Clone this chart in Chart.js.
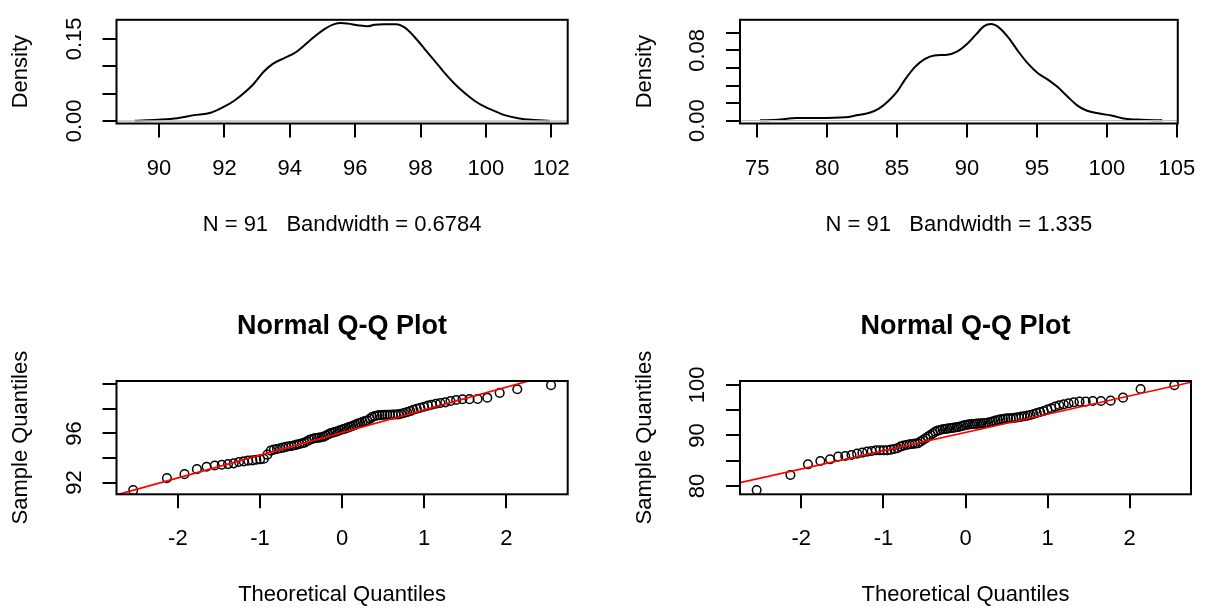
<!DOCTYPE html>
<html>
<head>
<meta charset="utf-8">
<title>Density and Normal Q-Q plots</title>
<script src="https://cdn.jsdelivr.net/npm/chart.js@4.4.1/dist/chart.umd.min.js"></script>
<style>
    html, body { margin: 0; padding: 0; background: #fff; }
    #figure { position: relative; width: 1213px; height: 610px; overflow: hidden; }
    #figure canvas { position: absolute; }
</style>
</head>
<body>
<div id="figure">
    <canvas id="densA" style="left:0px;top:0px" width="606" height="305"></canvas>
    <canvas id="densB" style="left:624px;top:0px" width="589" height="305"></canvas>
    <canvas id="qqA" style="left:0px;top:305px" width="606" height="305"></canvas>
    <canvas id="qqB" style="left:624px;top:305px" width="589" height="305"></canvas>
</div>
<script>
// =============================================
// Data
// =============================================

// density curve, first sample (N = 91, bw = 0.6784)
const densAx = [89.26, 89.93, 90.56, 91.07, 91.58, 91.99, 92.3, 92.6, 92.9, 93.2,
    93.47, 93.83, 94.14, 94.44, 94.75, 95.06, 95.36, 95.57, 95.77, 96.08,
    96.38, 96.59, 96.89, 97.25, 97.51, 97.81, 98.12, 98.43, 98.74, 99.04,
    99.35, 99.65, 99.96, 100.27, 100.57, 100.98, 101.39, 101.95];
const densAy = [0.0004, 0.0022, 0.005, 0.0106, 0.015, 0.026, 0.037, 0.051, 0.068, 0.090,
    0.104, 0.115, 0.124, 0.138, 0.154, 0.168, 0.177, 0.179, 0.178, 0.175,
    0.173, 0.176, 0.177, 0.177, 0.171, 0.154, 0.132, 0.110, 0.0875, 0.068,
    0.051, 0.037, 0.026, 0.018, 0.0106, 0.005, 0.002, 0.0004];

// density curve, second sample (N = 91, bw = 1.335)
const densBx = [75.2, 76.44, 77.82, 79.33, 81.3, 82.1, 83.03, 83.73, 84.42, 85.0,
    85.58, 86.27, 86.97, 87.66, 88.59, 89.28, 89.98, 90.67, 91.25, 91.71,
    92.29, 92.99, 93.68, 94.38, 95.07, 95.76, 96.46, 97.15, 97.85, 98.54,
    99.47, 100.39, 101.32, 102.48, 103.96];
const densBy = [0.0003, 0.001, 0.003, 0.003, 0.0038, 0.006, 0.009, 0.014, 0.023, 0.033,
    0.047, 0.061, 0.070, 0.0743, 0.075, 0.0785, 0.087, 0.0986, 0.108, 0.110,
    0.106, 0.094, 0.0785, 0.0646, 0.054, 0.047, 0.0385, 0.028, 0.0177, 0.0115,
    0.008, 0.0056, 0.002, 0.001, 0.0003];

// theoretical quantiles (x of both Q-Q plots)
const qqTheo = [-2.544, -2.133, -1.919, -1.768, -1.650, -1.551, -1.465, -1.389, -1.320, -1.256,
    -1.197, -1.143, -1.092, -1.044, -0.998, -0.953, -0.910, -0.869, -0.830, -0.792,
    -0.755, -0.718, -0.683, -0.649, -0.615, -0.582, -0.550, -0.518, -0.487, -0.456,
    -0.426, -0.396, -0.366, -0.337, -0.308, -0.279, -0.250, -0.222, -0.194, -0.166,
    -0.138, -0.110, -0.083, -0.055, -0.028, 0, 0.028, 0.055, 0.083, 0.110,
    0.138, 0.166, 0.194, 0.222, 0.250, 0.279, 0.308, 0.337, 0.366, 0.396,
    0.426, 0.456, 0.487, 0.518, 0.550, 0.582, 0.615, 0.649, 0.683, 0.718,
    0.755, 0.792, 0.830, 0.869, 0.910, 0.953, 0.998, 1.044, 1.092, 1.143,
    1.197, 1.256, 1.320, 1.389, 1.465, 1.551, 1.650, 1.768, 1.919, 2.133, 2.544];

// sample quantiles
const qqSampleA = [91.38, 92.36, 92.68, 93.09, 93.28, 93.39, 93.45, 93.50, 93.56, 93.67,
    93.72, 93.78, 93.80, 93.86, 93.89, 93.94, 94.27, 94.60, 94.68, 94.73,
    94.79, 94.84, 94.90, 94.95, 94.98, 95.03, 95.09, 95.14, 95.20, 95.25,
    95.36, 95.47, 95.55, 95.61, 95.63, 95.66, 95.69, 95.74, 95.83, 95.93,
    96.02, 96.07, 96.13, 96.18, 96.26, 96.32, 96.37, 96.43, 96.51, 96.56,
    96.64, 96.73, 96.81, 96.86, 96.95, 97.00, 97.05, 97.19, 97.33, 97.41,
    97.46, 97.49, 97.50, 97.52, 97.52, 97.52, 97.53, 97.54, 97.55, 97.60,
    97.66, 97.74, 97.82, 97.93, 98.01, 98.09, 98.17, 98.26, 98.34, 98.42,
    98.48, 98.53, 98.64, 98.72, 98.78, 98.79, 98.80, 98.91, 99.30, 99.60, 99.93];
const qqSampleB = [79.18, 82.18, 84.29, 84.95, 85.28, 85.81, 85.94, 86.14, 86.40, 86.60,
    86.80, 86.93, 87.06, 87.06, 87.06, 87.06, 87.19, 87.33, 87.46, 87.79,
    87.99, 88.12, 88.25, 88.32, 88.38, 88.45, 88.78, 89.11, 89.44, 89.77,
    90.10, 90.43, 90.76, 90.96, 91.09, 91.22, 91.29, 91.35, 91.42, 91.49,
    91.55, 91.62, 91.68, 91.82, 91.95, 92.08, 92.15, 92.21, 92.28, 92.28,
    92.34, 92.34, 92.41, 92.41, 92.48, 92.54, 92.67, 92.81, 92.94, 93.07,
    93.20, 93.27, 93.33, 93.40, 93.40, 93.47, 93.53, 93.60, 93.73, 93.80,
    93.93, 94.06, 94.26, 94.46, 94.65, 94.85, 95.12, 95.38, 95.71, 95.97,
    96.17, 96.37, 96.57, 96.70, 96.70, 96.83, 96.83, 96.90, 97.49, 99.21, 99.96];

// qqline: [intercept, slope]
const qqLineA = [96.07, 1.85];
const qqLineB = [90.6, 3.62];

// axis limits: [xmin, xmax, ymin, ymax]
const limDensA = [88.7, 102.5, -0.0047, 0.185];
const limDensB = [73.77, 105.07, -0.0033, 0.1149];
const limQqA = [-2.747, 2.747, 91.04, 100.27];
const limQqB = [-2.747, 2.747, 78.35, 100.79];

// ticks and their labels ('' = tick without label)
const ticksDensAx = [90, 92, 94, 96, 98, 100, 102];
const labelsDensAx = ['90', '92', '94', '96', '98', '100', '102'];
const ticksDensAy = [0, 0.05, 0.10, 0.15];
const labelsDensAy = ['0.00', '', '', '0.15'];
const ticksDensBx = [75, 80, 85, 90, 95, 100, 105];
const labelsDensBx = ['75', '80', '85', '90', '95', '100', '105'];
const ticksDensBy = [0, 0.02, 0.04, 0.06, 0.08, 0.10];
const labelsDensBy = ['0.00', '', '', '', '0.08', ''];
const ticksQqX = [-2, -1, 0, 1, 2];
const labelsQqX = ['-2', '-1', '0', '1', '2'];
const ticksQqAy = [92, 94, 96, 98, 100];
const labelsQqAy = ['92', '', '96', '', ''];
const ticksQqBy = [80, 85, 90, 95, 100];
const labelsQqBy = ['80', '', '90', '', '100'];

const subDensA = 'N = 91   Bandwidth = 0.6784';
const subDensB = 'N = 91   Bandwidth = 1.335';
const qqTitle = 'Normal Q-Q Plot';
const qqXLabel = 'Theoretical Quantiles';
const qqYLabel = 'Sample Quantiles';
const densYLabel = 'Density';

(function() {
    'use strict';

    const INK = '#000000';
    const LWD = 2;
    const FS = 22;

    Chart.defaults.font.family = '"Liberation Sans", Arial, sans-serif';
    Chart.defaults.font.size = FS;
    Chart.defaults.color = INK;

    // =============================================
    // Plot frame (R draws a full box round the plot region)
    // =============================================
    const boxPlugin = {
        id: 'rbox',
        afterDatasetsDraw(chart) {
            const a = chart.chartArea;
            const ctx = chart.ctx;
            ctx.save();
            ctx.strokeStyle = INK;
            ctx.lineWidth = LWD;
            ctx.strokeRect(a.left, a.top, a.right - a.left, a.bottom - a.top);
            ctx.restore();
        }
    };

    function pts(xs, ys) {
        return xs.map((x, i) => ({ x: x, y: ys[i] }));
    }

    // =============================================
    // Axes
    // =============================================
    function xAxis(lim, ticks, labels, title, labelPad, titlePad, height) {
        return {
            type: 'linear', position: 'bottom', bounds: 'data',
            min: lim[0], max: lim[1],
            afterBuildTicks: s => { s.ticks = ticks.map(v => ({ value: v })); },
            afterFit: s => { s.height = height; },
            grid: { display: true, drawOnChartArea: false, drawTicks: true, tickLength: 14, color: INK, lineWidth: LWD },
            border: { display: false },
            ticks: { autoSkip: false, maxRotation: 0, minRotation: 0, padding: labelPad, color: INK,
                callback: (v, i) => labels[i] },
            title: { display: true, text: title, color: INK, padding: { top: 0, bottom: titlePad } }
        };
    }

    function yAxis(lim, ticks, labels, title, labelPad, width) {
        return {
            type: 'linear', position: 'left', bounds: 'data',
            min: lim[2], max: lim[3],
            afterBuildTicks: s => { s.ticks = ticks.map(v => ({ value: v })); },
            afterFit: s => { s.width = width; },
            grid: { display: true, drawOnChartArea: false, drawTicks: true, tickLength: 14, color: INK, lineWidth: LWD },
            border: { display: false },
            ticks: { autoSkip: false, minRotation: 90, maxRotation: 90, crossAlign: 'center',
                padding: labelPad, color: INK, callback: (v, i) => labels[i] },
            title: { display: true, text: title, color: INK, padding: { top: 7.5, bottom: 0 } }
        };
    }

    function makeChart(id, datasets, scales, padTop, padRight, title) {
        return new Chart(document.getElementById(id), {
            type: 'scatter',
            data: { datasets: datasets },
            options: {
                responsive: false,
                animation: false,
                events: [],
                layout: { padding: { top: padTop, right: padRight, left: 0, bottom: 0 } },
                plugins: {
                    legend: { display: false },
                    tooltip: { enabled: false },
                    title: title ? {
                        display: true, text: title, fullSize: false, color: INK,
                        font: { size: 27, weight: 'bold' },
                        padding: { top: 5.8, bottom: 37.8 }
                    } : { display: false }
                },
                scales: scales
            },
            plugins: [boxPlugin]
        });
    }

    // =============================================
    // Density panels
    // =============================================
    function densityPanel(id, xs, ys, lim, tx, lx, ty, ly, sub, yWidth, padRight) {
        const datasets = [{
            // zero line (drawn over the curve, as plot.density does)
            data: [{ x: lim[0], y: 0 }, { x: lim[1], y: 0 }],
            showLine: true, borderColor: '#BEBEBE', borderWidth: 1.4, pointRadius: 0, clip: 0
        }, {
            data: pts(xs, ys),
            showLine: true, borderColor: INK, borderWidth: 2, pointRadius: 0,
            cubicInterpolationMode: 'monotone', clip: 0
        }];
        return makeChart(id, datasets, {
            x: xAxis(lim, tx, lx, sub, 17.8, 66.8, 181.5),
            y: yAxis(lim, ty, ly, densYLabel, 6.6, yWidth)
        }, 10, padRight, null);
    }

    // =============================================
    // Q-Q panels
    // =============================================
    function qqPanel(id, ys, line, lim, ty, ly, yPad, yWidth, padRight) {
        const datasets = [{
            data: [{ x: lim[0], y: line[0] + line[1] * lim[0] }, { x: lim[1], y: line[0] + line[1] * lim[1] }],
            showLine: true, borderColor: '#FF0000', borderWidth: 1.7, pointRadius: 0, clip: 0
        }, {
            data: pts(qqTheo, ys),
            showLine: false, pointStyle: 'circle', pointRadius: 4.3,
            borderColor: INK, backgroundColor: 'rgba(0,0,0,0)', borderWidth: 1.5
        }];
        return makeChart(id, datasets, {
            x: xAxis(lim, ticksQqX, labelsQqX, qqXLabel, 17, 1.8, 115.7),
            y: yAxis(lim, ty, ly, qqYLabel, yPad, yWidth)
        }, 0, padRight, qqTitle);
    }

    function init() {
        densityPanel('densA', densAx, densAy, limDensA, ticksDensAx, labelsDensAx,
            ticksDensAy, labelsDensAy, subDensA, 116.5, 38.3);
        densityPanel('densB', densBx, densBy, limDensB, ticksDensBx, labelsDensBx,
            ticksDensBy, labelsDensBy, subDensB, 116, 22);
        qqPanel('qqA', qqSampleA, qqLineA, limQqA, ticksQqAy, labelsQqAy, 15.8, 116.5, 38.3);
        qqPanel('qqB', qqSampleB, qqLineB, limQqB, ticksQqBy, labelsQqBy, 9.6, 116, 22);
    }

    init();
})();
</script>
</body>
</html>
